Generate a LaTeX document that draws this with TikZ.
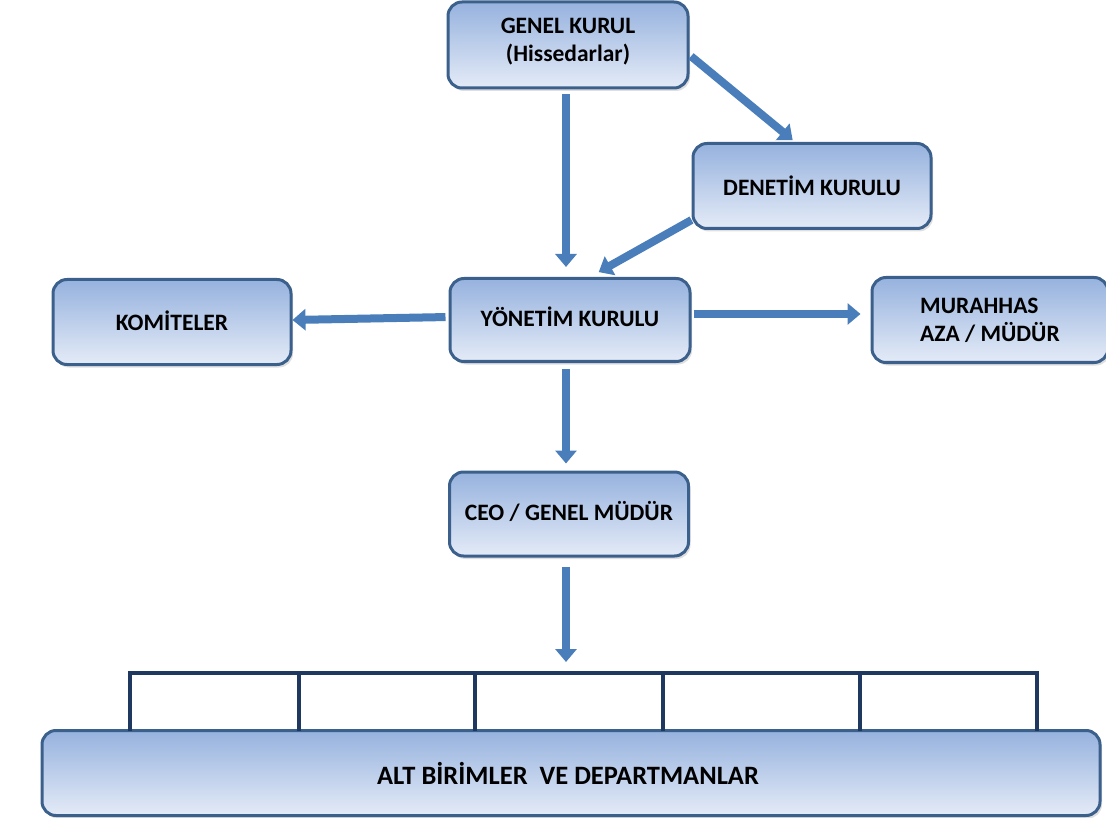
\documentclass[tikz,border=0pt]{standalone}
\usepackage{fontspec}
\setmainfont{Carlito}
\usetikzlibrary{arrows.meta,shadows}
\definecolor{boxtop}{RGB}{150,178,222}
\definecolor{boxbot}{RGB}{228,235,247}
\definecolor{boxline}{RGB}{60,96,140}
\definecolor{arrowblue}{RGB}{74,126,187}
\definecolor{navy}{RGB}{31,56,96}
\tikzset{
  box/.style={draw=boxline, line width=3pt, rounded corners=14pt,
    top color=boxtop, bottom color=boxbot,
    drop shadow={shadow xshift=2pt, shadow yshift=-3pt, opacity=0.25},
    font=\fontsize{23.5}{28}\selectfont\bfseries, text=black, inner sep=0pt},
  flow/.style={line width=8pt, draw=arrowblue,
    -{Triangle[width=21pt,length=13pt]}},
  bracket/.style={draw=navy, line width=4pt},
}
\begin{document}
\begin{tikzpicture}[x=1pt,y=-1pt]
\path[use as bounding box] (0,0) rectangle (1106,818);

\node[box, minimum width=240, minimum height=86, align=center] (gk) at (568,45)
  {GENEL KURUL\\(Hissedarlar)\rule[-10pt]{0pt}{1pt}};
\node[box, minimum width=238, minimum height=85] (dk) at (812,186) {DENET\.{I}M KURULU};
\node[box, minimum width=240, minimum height=83] (yk) at (570,320) {\raisebox{6pt}{Y\"ONET\.{I}M KURULU}};
\node[box, minimum width=238, minimum height=85] (kom) at (172,322) {\raisebox{3pt}{KOM\.{I}TELER}};
\node[box, minimum width=236, minimum height=85, align=left] (mur) at (990,320)
  {MURAHHAS\\AZA / M\"UD\"UR};
\node[box, minimum width=239, minimum height=84] (ceo) at (569,514) {\raisebox{6pt}{CEO / GENEL M\"UD\"UR}};
\node[box, minimum width=1058, minimum height=85, font=\fontsize{26.5}{30}\selectfont\bfseries] (alt) at (571,773)
  {\hspace*{-6pt}ALT B\.{I}R\.{I}MLER\ \ VE DEPARTMANLAR};

% bracket above ALT BIRIMLER
\draw[bracket] (130,731) |- (1037,673) -- (1037,731);
\foreach \x in {299,475,663,860} \draw[bracket] (\x,673) -- (\x,731);
\coordinate (brtop) at (566,673);

% arrows
\draw[flow, shorten <=5pt, shorten >=10pt] ([xshift=-2pt]gk.south) -- ([xshift=-4pt]yk.north);
\draw[flow, shorten <=2pt, shorten >=3pt] ([yshift=-10pt]gk.east) -- ([xshift=-17pt]dk.north);
\draw[flow, shorten <=0pt, shorten >=10pt] ([yshift=-34pt]dk.west) -- ([xshift=20pt]yk.north);
\draw[flow, shorten <=3pt, shorten >=0pt] ([yshift=3pt]yk.west) -- ([yshift=2pt]kom.east);
\draw[flow, shorten <=2pt, shorten >=10pt] ([yshift=6pt]yk.east) -- ([yshift=6pt]mur.west);
\draw[flow, shorten <=6pt, shorten >=7pt] ([xshift=-4pt]yk.south) -- ([xshift=-3pt]ceo.north);
\draw[flow, shorten <=9pt, shorten >=11pt] ([xshift=-3pt]ceo.south) -- (brtop);
\end{tikzpicture}
\end{document}
